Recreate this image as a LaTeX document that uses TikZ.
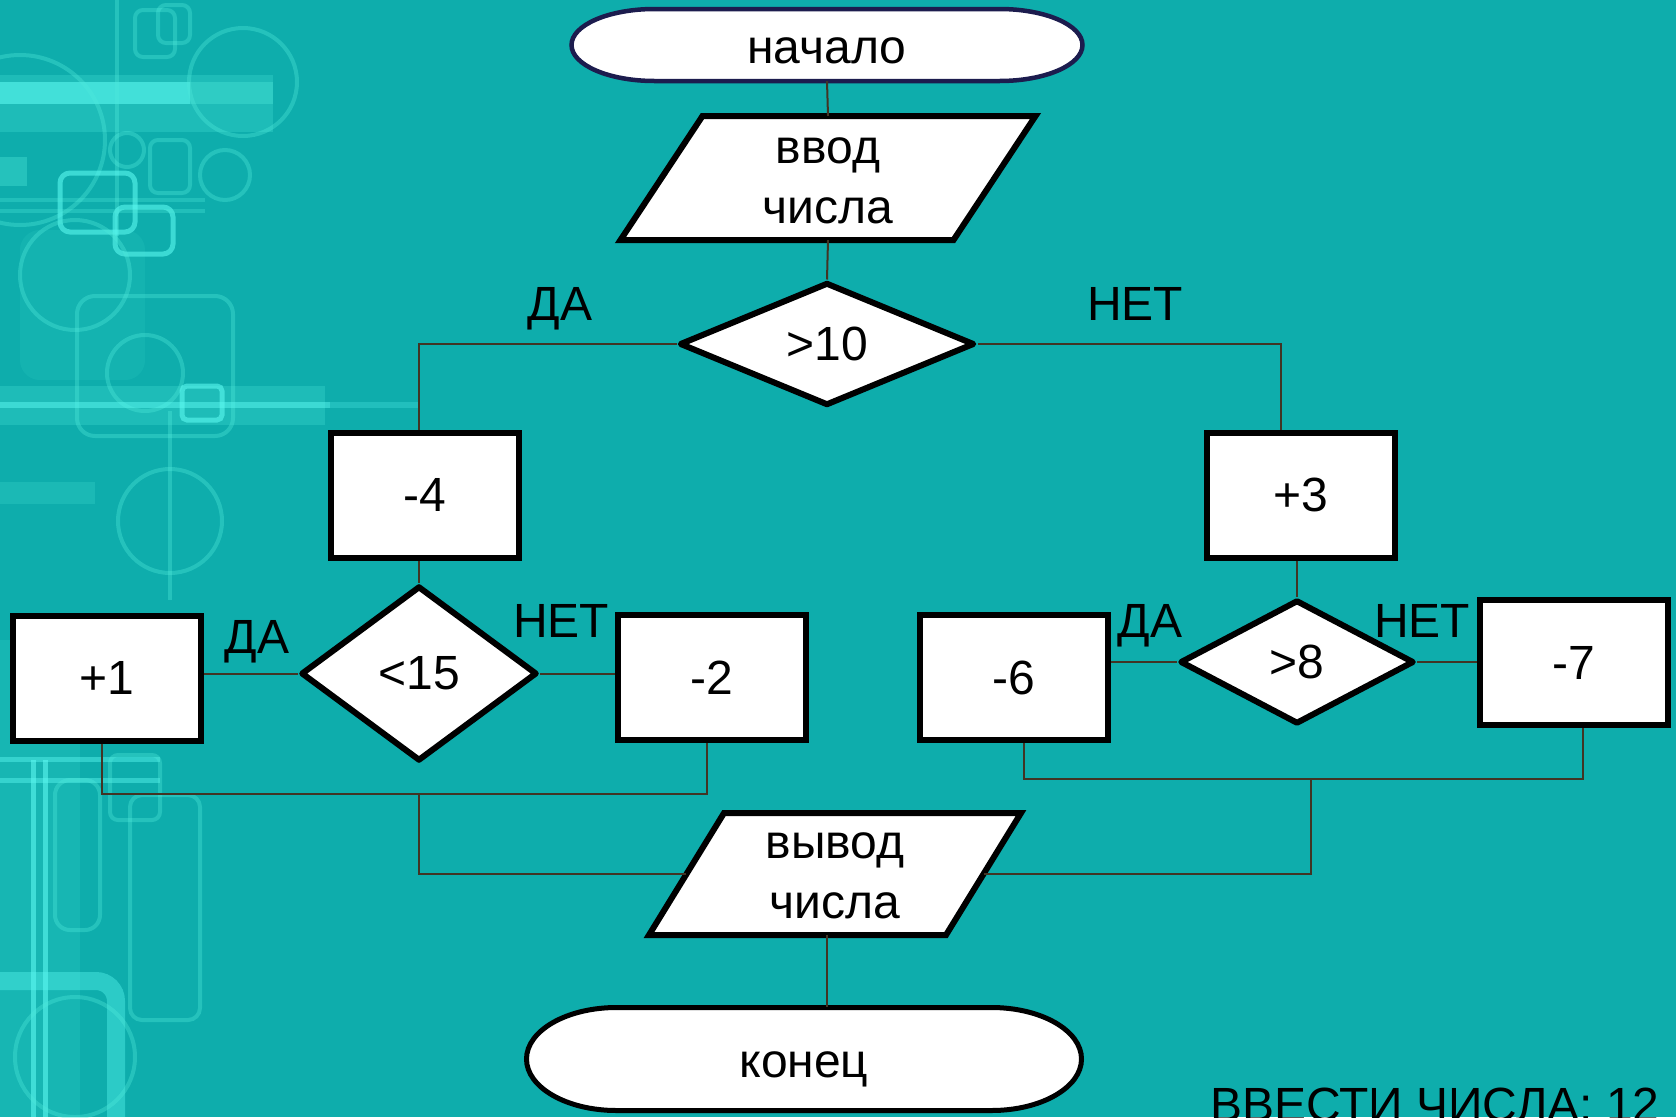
\documentclass[tikz,border=0pt]{standalone}
\usepackage{fontspec}
\setmainfont{Liberation Sans}
\usetikzlibrary{shapes.geometric}
\definecolor{bgteal}{RGB}{14,173,172}
\definecolor{deco}{RGB}{80,235,220}
\definecolor{bright}{RGB}{90,248,240}
\definecolor{navy}{RGB}{28,28,78}
\definecolor{wire}{RGB}{66,52,36}
\newcommand\fsz{\fontsize{48}{60}\selectfont}
% terminator outline: style, cx, cy, w, h, rx
\newcommand\termshape[6]{%
 \draw[#1] ({#2-#4/2+#6},{#3-#5/2}) -- ({#2+#4/2-#6},{#3-#5/2})
  .. controls ({#2+#4/2-0.4477*#6},{#3-#5/2}) and ({#2+#4/2},{#3-0.5523*#5/2}) .. ({#2+#4/2},{#3})
  .. controls ({#2+#4/2},{#3+0.5523*#5/2}) and ({#2+#4/2-0.4477*#6},{#3+#5/2}) .. ({#2+#4/2-#6},{#3+#5/2})
  -- ({#2-#4/2+#6},{#3+#5/2})
  .. controls ({#2-#4/2+0.4477*#6},{#3+#5/2}) and ({#2-#4/2},{#3+0.5523*#5/2}) .. ({#2-#4/2},{#3})
  .. controls ({#2-#4/2},{#3-0.5523*#5/2}) and ({#2-#4/2+0.4477*#6},{#3-#5/2}) .. ({#2-#4/2+#6},{#3-#5/2}) -- cycle;}
% parallelogram outline: style, cx, cy, w, h, offset
\newcommand\parashape[6]{%
 \draw[#1] ({#2-#4/2+#6},{#3-#5/2}) -- ({#2+#4/2},{#3-#5/2}) -- ({#2+#4/2-#6},{#3+#5/2}) -- ({#2-#4/2},{#3+#5/2}) -- cycle;}
\tikzset{
 box/.style={rectangle, draw=black, line width=6pt, fill=white, minimum width=188pt, minimum height=125pt, inner sep=0pt, font=\fsz},
 dia/.style={diamond, draw=black, line width=6pt, line join=round, fill=white, inner sep=0pt, font=\fsz},
 txt/.style={rectangle, inner sep=0pt, font=\fsz, align=center},
 wirel/.style={draw=wire, line width=2pt},
 lbl/.style={inner sep=0pt, font=\fsz, anchor=base},
 outl/.style={draw=black, line width=6pt, fill=white, line join=miter},
 dl/.style={draw=deco, draw opacity=0.35, line width=4pt},
 dlb/.style={draw=bright, draw opacity=0.6, line width=5pt}
}
\begin{document}
\begin{tikzpicture}[x=1pt,y=-1pt]
\useasboundingbox (0,0) rectangle (1676,1117);
\clip (0,0) rectangle (1676,1117);
\fill[bgteal] (0,0) rectangle (1676,1117);
% ---- background decoration (left side)
\fill[deco, opacity=0.25] (0,75) rectangle (273,132);
\fill[bright, opacity=0.6] (0,82) rectangle (190,104);
\fill[deco, opacity=0.35] (190,82) rectangle (273,104);
\draw[dl] (243,82) circle (54pt);
\draw[dl] (20,140) circle (85pt);
\draw[dl] (117,0) -- (117,236);
\draw[dlb, rounded corners=10pt] (60,173) rectangle (135,232);
\draw[dlb, rounded corners=10pt] (115,207) rectangle (173,254);
\fill[deco, opacity=0.3] (0,198) rectangle (205,202);
\fill[deco, opacity=0.3] (0,209) rectangle (205,213);
\fill[deco, opacity=0.35] (0,157) rectangle (27,186);
\draw[dl] (127,150) circle (17pt);
\draw[dl] (225,175) circle (25pt);
\draw[dl, rounded corners=8pt] (150,140) rectangle (190,193);
\draw[dl, rounded corners=8pt] (135,10) rectangle (175,57);
\draw[dl, rounded corners=8pt] (158,5) rectangle (190,43);
\draw[dl] (75,275) circle (55pt);
\fill[deco, opacity=0.1, rounded corners=20pt] (20,230) rectangle (145,380);
\draw[dl, rounded corners=18pt] (77,296) rectangle (233,436);
\draw[dl] (145,373) circle (38pt);
\fill[deco, opacity=0.25] (0,386) rectangle (325,425);
\fill[bright, opacity=0.5] (0,402) rectangle (330,408);
\fill[bright, opacity=0.25] (330,402) rectangle (420,408);
\draw[dlb, rounded corners=5pt] (182,386) rectangle (222,420);
\draw[dl] (170,411) -- (170,600);
\draw[dl] (170,521) circle (52pt);
\fill[deco, opacity=0.2] (0,482) rectangle (95,504);
\fill[deco, opacity=0.15] (0,640) rectangle (80,1117);
\fill[bright, opacity=0.45] (0,757) rectangle (160,762);
\fill[bright, opacity=0.45] (0,778) rectangle (160,783);
\draw[dlb] (33,760) -- (33,1117);
\draw[dlb] (45,760) -- (45,1117);
\draw[dl, rounded corners=15pt] (55,780) rectangle (100,930);
\draw[dl, rounded corners=8pt] (110,755) rectangle (160,820);
\draw[dl, rounded corners=12pt] (130,795) rectangle (200,1020);
\draw[draw=bright, draw opacity=0.4, line width=18pt, rounded corners=20pt] (0,981) -- (116,981) -- (116,1117);
\draw[dl] (75,1057) circle (60pt);
% ---- shapes
\termshape{draw=navy, line width=4.5pt, fill=white}{827}{45}{511}{72}{83}
\node[txt, minimum width=511pt, minimum height=72pt, text height=40pt, text depth=4pt] (nach) at (827,45) {начало};
\parashape{outl}{828}{178}{415}{124}{82}
\node[txt, minimum width=333pt, minimum height=124pt, text height=100pt, text depth=10pt] (vvod) at (828,178) {ввод\\числа};
\node[dia, minimum width=295pt, minimum height=123pt] (d10) at (827,344) {>10};
\node[box] (m4) at (425,495) {-4};
\node[box] (p3) at (1300.5,495) {+3};
\node[dia, minimum width=236pt, minimum height=175pt] (d15) at (419,673.5) {<15};
\node[box] (p1) at (107,678) {+1};
\node[box] (m2) at (711.5,677.5) {-2};
\node[box] (m6) at (1013.5,677.5) {-6};
\node[dia, minimum width=234pt, minimum height=124pt] (d8) at (1297,662) {>8};
\node[box] (m7) at (1574,662.5) {-7};
\parashape{outl}{835}{874}{372}{122}{75}
\node[txt, minimum width=297pt, minimum height=122pt, text height=98pt, text depth=10pt] (vyvod) at (835,874) {\fontsize{48}{55}\selectfont вывод\\числа};
\termshape{draw=black, line width=5pt, fill=white}{804}{1059}{555}{103}{90}
\node[txt, minimum width=555pt, minimum height=103pt, text height=40pt, text depth=4pt] (konec) at (804,1059) {конец};
% ---- connectors
\draw[wirel] (nach.south) -- (vvod.north);
\draw[wirel] (vvod.south) -- (d10.north);
\coordinate (c4) at ([xshift=-6pt]m4.north);
\draw[wirel] (d10.west) -| (c4);
\coordinate (c3) at ([xshift=-20pt]p3.north);
\draw[wirel] (d10.east) -| (c3);
\draw[wirel] (d15.north |- m4.south) -- (d15.north);
\draw[wirel] (d15.west) -- (d15.west -| p1.east);
\draw[wirel] (d15.east) -- (d15.east -| m2.west);
\draw[wirel] (d8.north |- p3.south) -- (d8.north);
\draw[wirel] (d8.west) -- (d8.west -| m6.east);
\draw[wirel] (d8.east) -- (d8.east -| m7.west);
\coordinate (jl) at (419,794);
\coordinate (s1) at ([xshift=-5pt]p1.south);
\coordinate (s2) at ([xshift=-5pt]m2.south);
\draw[wirel] (s1) |- (jl) -| (s2);
\draw[wirel] (jl) |- (vyvod.west);
\coordinate (jr) at (1311,779);
\coordinate (s6) at ([xshift=10pt]m6.south);
\coordinate (s7) at ([xshift=9pt]m7.south);
\draw[wirel] (s6) |- (jr) -| (s7);
\draw[wirel] (jr) |- (vyvod.east);
\coordinate (vb) at ([xshift=-8pt]vyvod.south);
\draw[wirel] (vb) -- (vb |- konec.north);
% ---- labels
\node[lbl] (da1) at (560,320) {ДА};
\node[lbl] (net1) at (1135,320) {НЕТ};
\node[lbl] (da2) at (257,653) {ДА};
\node[lbl] (net2) at (561,637) {НЕТ};
\node[lbl] (da3) at (1150,637) {ДА};
\node[lbl] (net3) at (1422,637) {НЕТ};
\node[lbl, anchor=base west] (note) at (1210,1121) {ВВЕСТИ ЧИСЛА: 12};
\end{tikzpicture}
\end{document}
